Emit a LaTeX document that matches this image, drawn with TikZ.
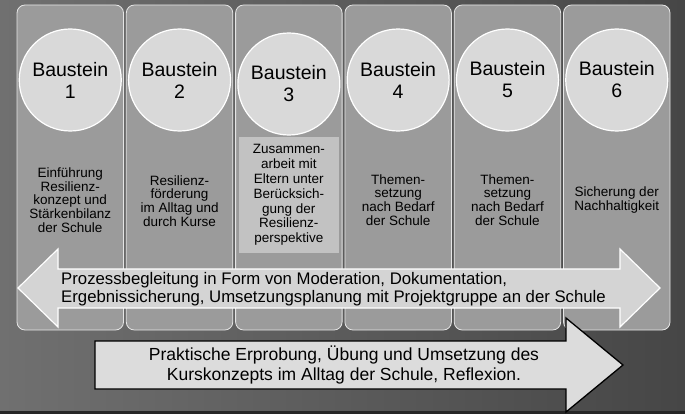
\documentclass[tikz,border=0pt]{standalone}
\usepackage{fontspec}
\setmainfont{Liberation Sans}
\definecolor{hgLinks}{HTML}{707070}
\definecolor{hgRechts}{HTML}{464646}
\definecolor{rand}{HTML}{262626}
\definecolor{saeulegrau}{HTML}{9B9B9B}
\definecolor{kreisgrau}{HTML}{D9D9D9}
\definecolor{feldgrau}{HTML}{C2C2C2}
\definecolor{pfeilgrau}{HTML}{D4D4D4}
\definecolor{pfeilhell}{HTML}{DCDCDC}
\begin{document}
\begin{tikzpicture}[x=1pt,y=-1pt,
	saeule/.style={fill=saeulegrau, draw=white!90!black, line width=0.8pt, rounded corners=8pt},
	baustein/.style={circle, fill=kreisgrau, draw=white, line width=1.2pt, minimum size=102pt, inner sep=0pt, align=center, font=\fontsize{19.5}{22}\selectfont},
	inhalt/.style={align=center, inner sep=0pt, font=\fontsize{13.5}{13.8}\selectfont}]
	\useasboundingbox (0,0) rectangle (685,414);
	\shade[left color=hgLinks, right color=hgRechts] (0,0) rectangle (685,414); %hintergrund
	\fill[rand] (0,411) rectangle (685,414); %unterer rand
	
	\draw[saeule] (17,5) rectangle (123.5,330); %saeule 1
	\draw[saeule] (126.3,5) rectangle (232.8,330); %saeule 2
	\draw[saeule] (235.6,5) rectangle (342.1,330); %saeule 3
	\draw[saeule] (344.9,5) rectangle (451.4,330); %saeule 4
	\draw[saeule] (454.2,5) rectangle (560.7,330); %saeule 5
	\draw[saeule] (563.5,5) rectangle (670,330); %saeule 6
	
	\node[baustein] at (70.25,80) (b1) {Baustein\\1};
	\node[baustein] at (179.55,80) (b2) {Baustein\\2};
	\node[baustein] at (288.85,84) (b3) {Baustein\\3};
	\node[baustein] at (398.15,80) (b4) {Baustein\\4};
	\node[baustein] at (507.45,80) (b5) {Baustein\\5};
	\node[baustein] at (616.75,80) (b6) {Baustein\\6};
	
	\node[inhalt] at (70.25,200) (t1) {Einführung\\Resilienz-\\konzept und\\Stärkenbilanz\\der Schule};
	\node[inhalt] at (179.55,201) (t2) {Resilienz-\\förderung\\im Alltag und\\durch Kurse};
	\node[inhalt, fill=feldgrau, minimum width=100pt, minimum height=116pt, font=\fontsize{13.5}{14.8}\selectfont] at (288.85,195) (t3) {Zusammen-\\arbeit mit\\Eltern unter\\Berücksich-\\gung der\\Resilienz-\\perspektive};
	\node[inhalt] at (398.15,200) (t4) {Themen-\\setzung\\nach Bedarf\\der Schule};
	\node[inhalt] at (507.45,200) (t5) {Themen-\\setzung\\nach Bedarf\\der Schule};
	\node[inhalt] at (616.75,200) (t6) {Sicherung der\\Nachhaltigkeit};
	
	\filldraw[fill=pfeilgrau, draw=white, line width=1.2pt] (18,288) -- (58,249) -- (58,269) -- (620,269) -- (620,249) -- (660,288) -- (620,327) -- (620,308) -- (58,308) -- (58,327) -- cycle; %prozesspfeil
	\node[anchor=west, align=left, inner sep=0pt, font=\fontsize{16.75}{18}\selectfont] at (61,289) (prozess) {Prozessbegleitung in Form von Moderation, Dokumentation,\\Ergebnissicherung, Umsetzungsplanung mit Projektgruppe an der Schule};
	
	\filldraw[fill=pfeilhell, draw=black, line width=1.3pt] (95,341) -- (566,341) -- (566,318) -- (623,365) -- (566,412) -- (566,389) -- (95,389) -- cycle; %praxispfeil
	\node[align=center, inner sep=0pt, font=\fontsize{17.5}{20}\selectfont] at (344,365) (praxis) {Praktische Erprobung, Übung und Umsetzung des\\Kurskonzepts im Alltag der Schule, Reflexion.};
\end{tikzpicture}
\end{document}
